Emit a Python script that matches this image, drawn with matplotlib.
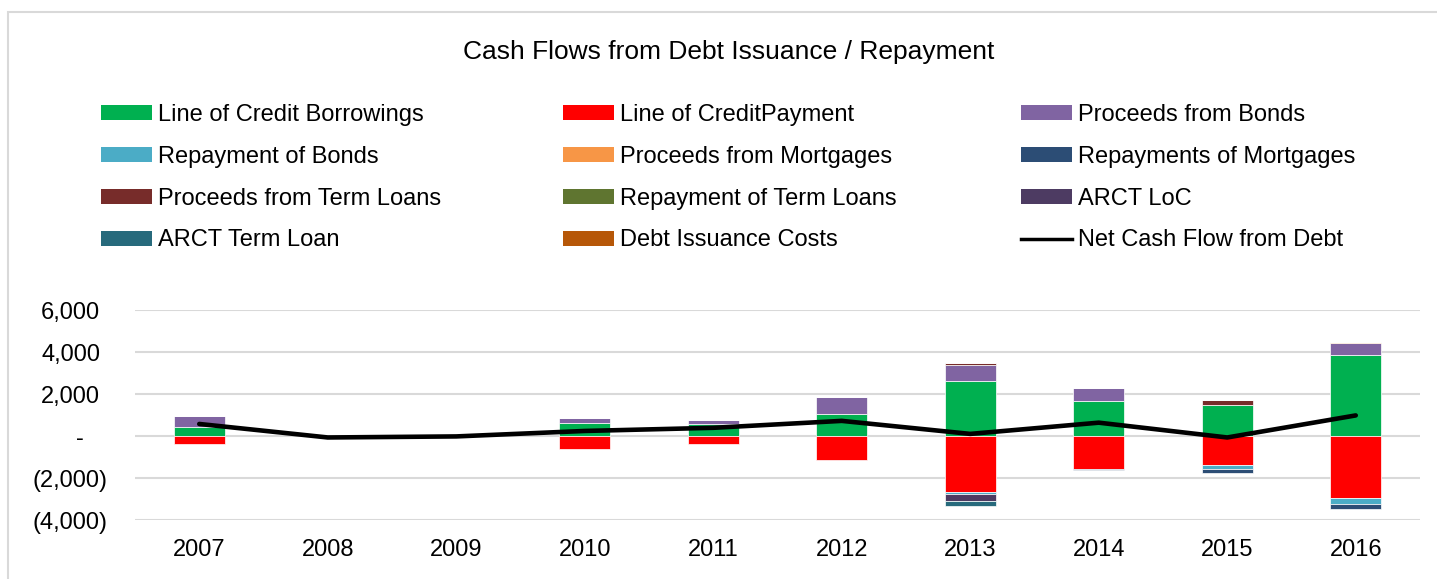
import matplotlib
matplotlib.use("Agg")
import matplotlib.pyplot as plt
from matplotlib.patches import Rectangle, Patch
from matplotlib.lines import Line2D
from matplotlib.transforms import ScaledTranslation
import numpy as np

# ---------------- data ----------------
years = ["2007", "2008", "2009", "2010", "2011", "2012", "2013", "2014", "2015", "2016"]

loc_borrowings   = [413, 0, 0, 603, 590, 1063, 2618, 1681, 1460, 3855]
loc_payment      = [-380, 0, 0, -603, -380, -1158, -2650, -1586, -1380, -2966]
bond_proceeds    = [540, 0, 0, 254, 172, 810, 747, 589, 0, 557]
bond_repayment   = [0, 0, 0, 0, 0, 0, -110, 0, -175, -286]
mort_proceeds    = [0, 0, 0, 0, 0, 0, 0, 0, 0, 48]
mort_repayment   = [0, 0, 0, 0, 0, 0, 0, -47, -206, -238]
term_proceeds    = [0, 0, 0, 0, 0, 0, 95, 0, 254, 0]
term_repayment   = [0, 0, 0, 0, 0, 0, 0, 0, 0, 0]
arct_loc         = [0, 0, 0, 0, 0, 0, -334, 0, 0, 0]
arct_term_loan   = [0, 0, 0, 0, 0, 0, -223, 0, 0, 0]
issuance_costs   = [0, 0, 0, 0, 0, 0, 0, 0, 0, 0]
net_cash_flow    = [573, -70, -20, 240, 390, 720, 100, 635, -70, 980]

series_names = ["Line of Credit Borrowings", "Line of CreditPayment", "Proceeds from Bonds",
                "Repayment of Bonds", "Proceeds from Mortgages", "Repayments of Mortgages",
                "Proceeds from Term Loans", "Repayment of Term Loans", "ARCT LoC",
                "ARCT Term Loan", "Debt Issuance Costs"]
line_name = "Net Cash Flow from Debt"

ytick_values = [-4000, -2000, 0, 2000, 4000, 6000]
ytick_labels = ["(4,000)", "(2,000)", "-", "2,000", "4,000", "6,000"]
title = "Cash Flows from Debt Issuance / Repayment"

# ---------------- style ----------------
colors = ["#00B050", "#FF0000", "#8064A2", "#4BACC6", "#F79646", "#2C4D75",
          "#772C2A", "#5F7530", "#4D3B62", "#276A7C", "#B65708"]
FONT = "Liberation Sans"
FS = 17

plt.rcParams["font.family"] = [FONT, "DejaVu Sans"]

W, H = 1437, 579
fig = plt.figure(figsize=(W / 100, H / 100), dpi=100)

# outer chart border
fig.patches.append(Rectangle((8 / W, -0.01), 1.2, 1 - 12 / H + 0.01, transform=fig.transFigure,
                             fill=False, edgecolor="#D9D9D9", linewidth=1.5))

ax = fig.add_axes([135 / W, 1 - 520 / H, (1420 - 135) / W, (520 - 310) / H])

all_series = [loc_borrowings, loc_payment, bond_proceeds, bond_repayment, mort_proceeds,
              mort_repayment, term_proceeds, term_repayment, arct_loc, arct_term_loan,
              issuance_costs]

x = np.arange(len(years))
pos_bottom = np.zeros(len(years))
neg_bottom = np.zeros(len(years))
handles = []
for vals, name, c in zip(all_series, series_names, colors):
    v = np.array(vals, dtype=float)
    bottom = np.where(v >= 0, pos_bottom, neg_bottom)
    ax.bar(x, v, bottom=bottom, width=0.40, color=c, edgecolor="white", linewidth=0.5, zorder=2)
    pos_bottom = pos_bottom + np.where(v > 0, v, 0)
    neg_bottom = neg_bottom + np.where(v < 0, v, 0)
    handles.append(Patch(facecolor=c, edgecolor="none", label=name))

ax.plot(x, net_cash_flow, color="black", linewidth=3.3, zorder=3, solid_capstyle="round")
handles.append(Line2D([0], [0], color="black", linewidth=2.5, label=line_name))

ax.set_xlim(-0.5, len(years) - 0.5)
ax.set_ylim(-4000, 6000)
ax.set_yticks(ytick_values)
ax.set_yticklabels(ytick_labels)
ax.set_xticks(x)
ax.set_xticklabels(years)
ax.yaxis.grid(True, color="#D9D9D9", linewidth=1.5, zorder=0)
ax.set_axisbelow(True)
for s in ax.spines.values():
    s.set_visible(False)
ax.tick_params(axis="both", length=0, labelsize=FS)
ax.tick_params(axis="y", pad=20)
ax.tick_params(axis="x", pad=14)

# accounting-style alignment of y labels
for lab in ax.get_yticklabels():
    t = lab.get_text()
    if t.startswith("("):
        continue
    shift = -23 if t == "-" else -7
    lab.set_transform(lab.get_transform() + ScaledTranslation(shift / 100, 0, fig.dpi_scale_trans))

fig.text(729 / W, 1 - 52 / H, title, ha="center", va="center", fontsize=19)

# legend: three columns, row-wise order
col_x = [101, 563, 1021]
for ci in range(3):
    hs = handles[ci::3]
    fig.legend(handles=hs, loc="upper left", bbox_to_anchor=(col_x[ci] / W, 1 - 104 / H),
               bbox_transform=fig.transFigure, frameon=False, fontsize=FS, ncol=1,
               borderpad=0, borderaxespad=0, handlelength=2.15, handleheight=0.6,
               handletextpad=0.25, labelspacing=0.84)

fig.savefig("out.png", dpi=100)
